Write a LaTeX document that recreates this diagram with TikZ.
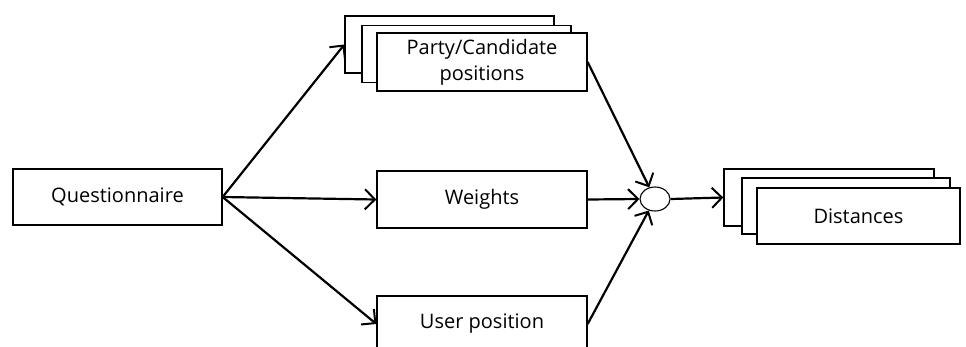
\documentclass[tikz,border=0pt]{standalone}
\usepackage{fontspec}
\setmainfont{Open Sans}
\usetikzlibrary{arrows.meta,shapes.geometric}
\begin{document}
\begin{tikzpicture}[x=1pt,y=-1pt,
  box/.style={draw,line width=1.3pt,fill=white,inner sep=0pt,align=center,font=\fontsize{20}{26}\selectfont},
  conn/.style={line width=2.2pt,-{Straight Barb[length=10pt,width=20pt,line width=2pt]}}]
\clip (0,0) rectangle (966,346);
\fill[white] (0,0) rectangle (966,346);
% Questionnaire
\node[box,minimum width=209pt,minimum height=56pt] (q) at (117.5,197) {Questionnaire};
% Party stack
\node[box,minimum width=209pt,minimum height=57pt] (pb) at (449.5,44.5) {};
\node[box,minimum width=209pt,minimum height=57pt] (pm) at (466.5,54) {};
\node[box,minimum width=210pt,minimum height=58pt] (pf) at (482,62) {Party/Candidate\\positions};
% Weights
\node[box,minimum width=210pt,minimum height=57pt] (w) at (482,199.5) {Weights};
% User position
\node[box,minimum width=210pt,minimum height=56pt] (up) at (482,324) {User position};
% combiner
\node[draw,ellipse,line width=1.1pt,minimum width=30pt,minimum height=24pt,inner sep=0pt] (c) at (655,199) {};
% Distances stack
\node[box,minimum width=210pt,minimum height=57pt] (db) at (829,197.5) {};
\node[box,minimum width=208pt,minimum height=56pt] (dm) at (846,206) {};
\node[box,minimum width=203pt,minimum height=56pt] (df) at (858.5,216) {Distances};
% connectors
\draw[conn] (q.east) -- (pb.west);
\draw[conn] (q.east) -- (w.west);
\draw[conn] (q.east) -- (up.west);
\draw[conn] (pf.east) -- (c);
\draw[conn] (w.east) -- (c.west);
\draw[conn] (up.east) -- (c);
\draw[conn] (c.east) -- (db.west);
\end{tikzpicture}
\end{document}
